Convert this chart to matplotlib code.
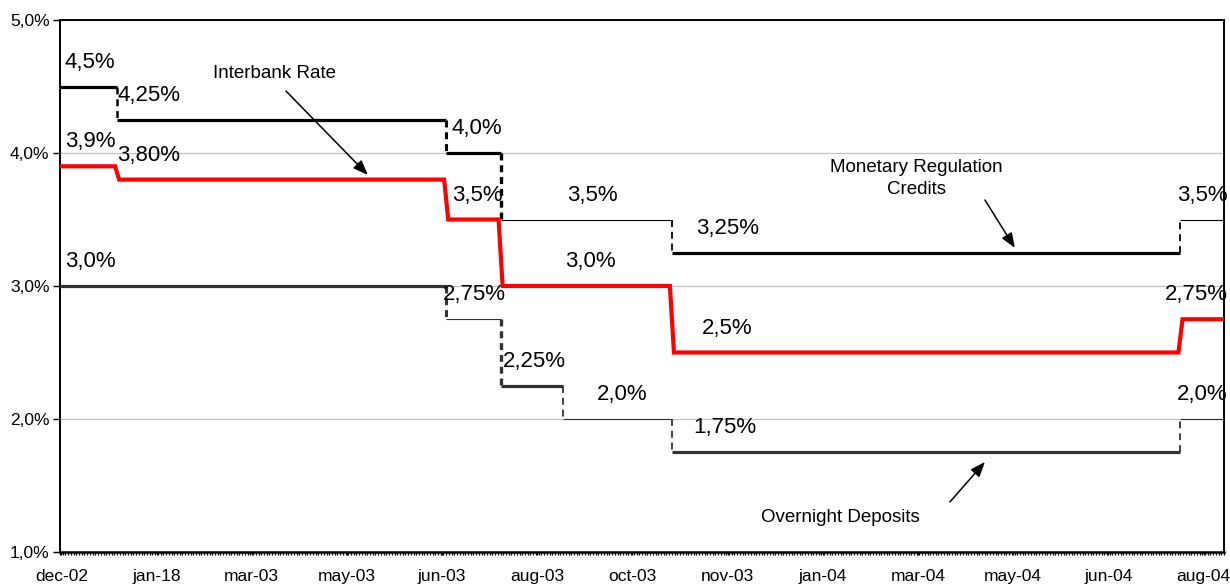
import matplotlib
matplotlib.use("Agg")
import matplotlib.pyplot as plt
from matplotlib.ticker import MultipleLocator, FuncFormatter

plt.rcParams['font.family'] = ['Liberation Sans', 'DejaVu Sans']
plt.rcParams['lines.scale_dashes'] = False

# Category axis: one slot per trading day, labelled every 35 slots
n_days = 428
label_step = 35
tick_labels = ["dec-02", "jan-18", "mar-03", "may-03", "jun-03", "aug-03", "oct-03",
               "nov-03", "jan-04", "mar-04", "may-04", "jun-04", "aug-04"]

# Policy corridor and market rate: day each level starts, level in %
credit_days = [0, 21, 142, 162, 225, 412]
credit_rates = [4.5, 4.25, 4.0, 3.5, 3.25, 3.5]
credit_decimals = [1, 2, 1, 1, 2, 1]

deposit_days = [0, 142, 162, 185, 225, 412]
deposit_rates = [3.0, 2.75, 2.25, 2.0, 1.75, 2.0]
deposit_decimals = [1, 2, 2, 1, 2, 1]

interbank_days = [0, 21, 142, 162, 225, 412]
interbank_rates = [3.9, 3.8, 3.5, 3.0, 2.5, 2.75]
interbank_decimals = [1, 2, 1, 1, 1, 2]

# Line styling per level segment and per dashed step connector
credit_seg_lw = [2.3, 2.3, 2.3, 0.8, 2.3, 0.8]
credit_link_lw = [1.8, 2.2, 2.4, 1.3, 1.3]
deposit_seg_lw = [2.3, 0.8, 2.3, 0.8, 2.3, 0.8]
deposit_link_lw = [2.2, 2.4, 1.3, 1.3, 1.3]

# Label placement: x anchor (category units) and alignment
credit_label_pos = [(1.8, 'left'), (21, 'left'), (144, 'left'), (186.5, 'left'), (234, 'left'), (None, 'right')]
deposit_label_pos = [(1.8, 'left'), (140.8, 'left'), (162.9, 'left'), (197.5, 'left'), (232.8, 'left'), (None, 'right')]
interbank_label_pos = [(1.8, 'left'), (21, 'left'), (144, 'left'), (185.7, 'left'), (236, 'left'), (None, 'right')]

fig = plt.figure(figsize=(12.3, 5.86), dpi=100)
ax = fig.add_axes([60 / 1230, 34 / 586, 1164 / 1230, 532 / 586])
ax.set_xlim(0, n_days)
ax.set_ylim(1.0, 5.0)


def fmt_rate(v, dec):
    return f"{v:.{dec}f}".replace('.', ',') + '%'


def draw_corridor(days, rates, seg_lw, link_lw, color):
    ends = days[1:] + [n_days]
    for s, e, v, lw in zip(days, ends, rates, seg_lw):
        ax.plot([s, e], [v, v], color=color, lw=lw, solid_capstyle='butt', zorder=3)
    for i in range(1, len(days)):
        ax.plot([days[i], days[i]], [rates[i - 1], rates[i]], color=color,
                lw=link_lw[i - 1], linestyle=(0, (5, 3.5)), dash_capstyle='butt', zorder=3)


def draw_labels(rates, decimals, positions, dy=17.5):
    for v, dec, (x, ha) in zip(rates, decimals, positions):
        dx = 0
        if x is None:
            x, dx = n_days - 0.1, 3
        ax.annotate(fmt_rate(v, dec), xy=(x, v), xytext=(dx, dy), textcoords='offset points',
                    ha=ha, va='center', fontsize=16, annotation_clip=False, zorder=5)


draw_corridor(credit_days, credit_rates, credit_seg_lw, credit_link_lw, '#000000')
draw_corridor(deposit_days, deposit_rates, deposit_seg_lw, deposit_link_lw, '#333333')

# Interbank rate: step line whose moves span about one day
xs, ys = [0], [interbank_rates[0]]
for i in range(1, len(interbank_days)):
    c = interbank_days[i]
    xs += [c - 0.75, c + 0.75]
    ys += [interbank_rates[i - 1], interbank_rates[i]]
xs.append(n_days)
ys.append(interbank_rates[-1])
ax.plot(xs, ys, color='#ff0000', lw=3.0, solid_joinstyle='miter', zorder=4)

draw_labels(credit_rates, credit_decimals, credit_label_pos)
draw_labels(deposit_rates, deposit_decimals, deposit_label_pos)
draw_labels(interbank_rates, interbank_decimals, interbank_label_pos)

# Series annotations with arrows
arrow = dict(arrowstyle='-|>,head_length=0.9,head_width=0.35', color='black', lw=1.1,
             shrinkA=0, shrinkB=0)
ax.text(78.7, 4.594, "Interbank Rate", ha='center', va='center', fontsize=13.5)
ax.annotate('', xy=(113.2, 3.835), xytext=(83.1, 4.466), arrowprops=arrow)

ax.text(315, 3.808, "Monetary Regulation\nCredits", ha='center', va='center',
        fontsize=13.5, linespacing=1.42)
ax.annotate('', xy=(351.1, 3.286), xytext=(340.1, 3.647), arrowprops=arrow)

ax.text(287, 1.263, "Overnight Deposits", ha='center', va='center', fontsize=13.5)
ax.annotate('', xy=(340.1, 1.677), xytext=(327.2, 1.376), arrowprops=arrow)

# Axes styling
ax.set_yticks([1, 2, 3, 4, 5])
ax.yaxis.set_major_formatter(FuncFormatter(lambda v, p: fmt_rate(v, 1)))
ax.yaxis.grid(True, color='#c0c0c0', lw=0.9, zorder=0)
ax.set_axisbelow(True)

ax.set_xticks([k * label_step + 0.5 for k in range(len(tick_labels))])
ax.set_xticklabels(tick_labels)
ax.xaxis.set_minor_locator(MultipleLocator(1))
ax.tick_params(axis='x', which='major', length=2.2, width=0.9, pad=10, labelsize=12.5)
ax.tick_params(axis='x', which='minor', length=2.2, width=0.9, direction='out')
ax.tick_params(axis='y', which='major', length=5, width=1, pad=2.5, labelsize=12.5)

for sp in ax.spines.values():
    sp.set_color('black')
    sp.set_linewidth(1.4)
ax.spines['bottom'].set_linewidth(1.8)

fig.savefig('out.png', dpi=100)
